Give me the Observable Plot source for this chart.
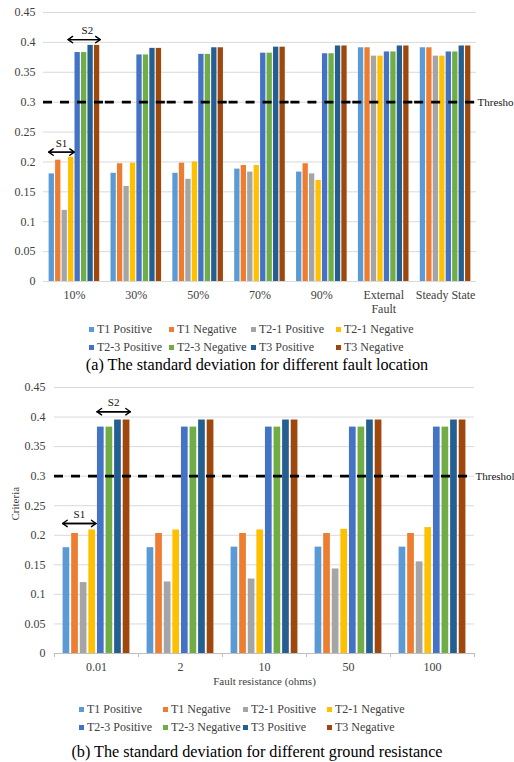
<!DOCTYPE html>
<html>
<head>
<meta charset="utf-8">
<script src="https://cdn.jsdelivr.net/npm/d3@7"></script>
<script src="https://cdn.jsdelivr.net/npm/@observablehq/plot@0.6"></script>
<style>
  html,body{margin:0;padding:0;background:#fff;}
  #page{position:relative;width:514px;height:762px;overflow:hidden;font-family:"Liberation Serif","Times New Roman",serif;}
  #page svg, #page svg text{font-family:"Liberation Serif","Times New Roman",serif !important;}
  .chart{position:absolute;left:0;}
  .legend{position:absolute;display:grid;font-size:12px;color:#404040;line-height:18px;}
  .item{display:flex;align-items:center;white-space:nowrap;}
  .sw{display:inline-block;width:5px;height:5px;margin-right:3px;flex:none;}
  .caption{position:absolute;left:0;width:514px;text-align:center;font-size:16.2px;color:#000;line-height:20px;white-space:nowrap;}
</style>
</head>
<body>
<div id="page">
  <div id="chartA" class="chart" style="top:0px"></div>
  <div id="legendA" class="legend" style="top:320px;left:89px;grid-template-columns:80px 82px 85px auto"></div>
  <div class="caption" style="top:355px">(a) The standard deviation for different fault location</div>
  <div id="chartB" class="chart" style="top:376px"></div>
  <div id="legendB" class="legend" style="top:700px;left:79px;grid-template-columns:84px 80px 84px auto"></div>
  <div class="caption" style="top:742px">(b) The standard deviation for different ground resistance</div>
</div>
<script>
// ---- shared ----
const series = ["T1 Positive", "T1 Negative", "T2-1 Positive", "T2-1 Negative",
                "T2-3 Positive", "T2-3 Negative", "T3 Positive", "T3 Negative"];
const seriesColors = ["#5B9BD5", "#ED7D31", "#A5A5A5", "#FFC000",
                      "#4472C4", "#70AD47", "#255E91", "#9E480E"];
const yTicks = [0, 0.05, 0.1, 0.15, 0.2, 0.25, 0.3, 0.35, 0.4, 0.45];
const threshold = [0.3];

// ---- panel (a): fault location ----
const locations = ["10%", "30%", "50%", "70%", "90%", "External Fault", "Steady State"];
const locT1Pos  = [0.180, 0.181, 0.181, 0.188, 0.183, 0.391, 0.391];
const locT1Neg  = [0.203, 0.197, 0.198, 0.194, 0.197, 0.391, 0.391];
const locT21Pos = [0.119, 0.159, 0.171, 0.183, 0.180, 0.377, 0.377];
const locT21Neg = [0.208, 0.198, 0.200, 0.194, 0.169, 0.377, 0.377];
const locT23Pos = [0.383, 0.379, 0.380, 0.382, 0.381, 0.384, 0.384];
const locT23Neg = [0.383, 0.379, 0.380, 0.382, 0.381, 0.384, 0.384];
const locT3Pos  = [0.395, 0.390, 0.391, 0.392, 0.394, 0.394, 0.394];
const locT3Neg  = [0.395, 0.390, 0.391, 0.392, 0.394, 0.394, 0.394];
const arrowsA = [
  {cat: "10%", label: "S1", from: "T1 Positive", to: "T2-1 Negative", mid: "T1 Negative", y: 0.2165},
  {cat: "10%", label: "S2", from: "T2-1 Negative", to: "T3 Negative", mid: "T2-3 Negative", y: 0.4047}
];

// ---- panel (b): fault resistance ----
const resistances = ["0.01", "2", "10", "50", "100"];
const resT1Pos  = [0.179, 0.179, 0.180, 0.180, 0.180];
const resT1Neg  = [0.203, 0.203, 0.203, 0.203, 0.203];
const resT21Pos = [0.120, 0.121, 0.126, 0.143, 0.155];
const resT21Neg = [0.209, 0.209, 0.209, 0.210, 0.213];
const resT23Pos = [0.383, 0.383, 0.383, 0.383, 0.383];
const resT23Neg = [0.383, 0.383, 0.383, 0.383, 0.383];
const resT3Pos  = [0.395, 0.395, 0.395, 0.395, 0.395];
const resT3Neg  = [0.395, 0.395, 0.395, 0.395, 0.395];
const arrowsB = [
  {cat: "0.01", label: "S1", from: "T1 Positive", to: "T2-1 Negative", mid: "T1 Negative", y: 0.220},
  {cat: "0.01", label: "S2", from: "T2-3 Positive", to: "T3 Negative", mid: "T2-3 Negative", y: 0.409}
];

const W = 514;
const fontFamily = '"Liberation Serif", "Times New Roman", serif';

function makePanel(o) {
  const data = o.cats.flatMap((c, i) => series.map((s, j) => ({cat: c, series: s, value: o.cols[j][i]})));
  const n = series.length;
  const fw = (W - o.ml - o.mr) / o.cats.length;
  const step = fw / (n - o.pi + 2 * o.po);
  const bw = step * (1 - o.pi);
  const half = step * o.po + bw / 2;
  const ext = bw / 2 + 0.5;
  const first = o.cats[0];
  const last = o.cats[o.cats.length - 1];
  const middle = o.cats[Math.floor(o.cats.length / 2)];
  const arrowStyle = {fx: "cat", y1: "y", y2: "y", stroke: "#000", strokeWidth: 1.4,
                      headLength: 6, headAngle: 70, insetStart: -ext, insetEnd: -ext};
  const marks = [
    Plot.gridY(yTicks, {stroke: "#d9d9d9", strokeOpacity: 1, strokeWidth: 1}),
    Plot.axisY(yTicks, {tickSize: 0, tickPadding: o.tickPadY, tickFormat: d3.format("~g"),
                        fontSize: 12, fill: "#404040", label: null}),
    Plot.axisFx({anchor: "bottom", tickSize: 0, tickPadding: 8, fontSize: 12, fill: "#404040",
                 lineHeight: 1.15, tickFormat: o.fxFormat, label: null})
  ];
  if (o.edgeTicks) {
    marks.push(Plot.ruleY([0], {stroke: "#bfbfbf", strokeWidth: 1}));
    marks.push(Plot.ruleX(o.cats, {fx: d => d, x: () => series[0], y1: 0, y2: 0, dx: -half,
                                   insetBottom: -4, stroke: "#bfbfbf"}));
    marks.push(Plot.ruleX([last], {fx: d => d, x: () => series[n - 1], y1: 0, y2: 0, dx: half,
                                   insetBottom: -4, stroke: "#bfbfbf"}));
  }
  marks.push(
    Plot.barY(data, {fx: "cat", x: "series", y: "value", fill: "series"}),
    Plot.ruleY(threshold, {y: d => d, stroke: "#000", strokeWidth: 2.6, strokeDasharray: "9,8"}),
    Plot.text(threshold, {fx: () => last, y: d => d, text: () => "Threshold", frameAnchor: "right",
                          textAnchor: "start", dx: 1, fontSize: 11, fill: "#111"}),
    Plot.arrow(o.arrows, {...arrowStyle, x1: "to", x2: "from"}),
    Plot.arrow(o.arrows, {...arrowStyle, x1: "from", x2: "to"}),
    Plot.text(o.arrows, {fx: "cat", x: "mid", y: "y", text: "label", dx: step / 2, dy: -9,
                         fontSize: 11, fill: "#111"})
  );
  if (o.yLabel) {
    marks.push(Plot.text([o.yLabel], {fx: () => first, frameAnchor: "left", text: d => d, rotate: -90,
                                      dx: -39, fontSize: 11, fill: "#404040"}));
  }
  if (o.xLabel) {
    marks.push(Plot.text([o.xLabel], {fx: () => middle, frameAnchor: "bottom", text: d => d,
                                      dy: 31, fontSize: 11, fill: "#404040"}));
  }
  return Plot.plot({
    width: W, height: o.height,
    marginTop: o.mt, marginBottom: o.mb, marginLeft: o.ml, marginRight: o.mr,
    style: {fontFamily, fontSize: "12px", background: "transparent", color: "#404040"},
    fx: {domain: o.cats, padding: 0, round: false, label: null},
    x: {domain: series, paddingInner: o.pi, paddingOuter: o.po, round: false, axis: null},
    y: {domain: [0, 0.45], label: null},
    color: {domain: series, range: seriesColors},
    marks
  });
}

const chartA = makePanel({
  cats: locations,
  cols: [locT1Pos, locT1Neg, locT21Pos, locT21Neg, locT23Pos, locT23Neg, locT3Pos, locT3Neg],
  arrows: arrowsA,
  height: 318, mt: 12, mb: 37, ml: 43, mr: 38, pi: 0.18, po: 0.87, tickPadY: 8,
  fxFormat: d => d === "External Fault" ? "External\nFault" : d,
  edgeTicks: false
});
document.getElementById("chartA").appendChild(chartA);

const chartB = makePanel({
  cats: resistances,
  cols: [resT1Pos, resT1Neg, resT21Pos, resT21Neg, resT23Pos, resT23Neg, resT3Pos, resT3Neg],
  arrows: arrowsB,
  height: 318, mt: 11, mb: 41, ml: 54, mr: 40, pi: 0.22, po: 1.0, tickPadY: 9,
  fxFormat: d => d,
  edgeTicks: true,
  yLabel: "Criteria",
  xLabel: "Fault resistance (ohms)"
});
document.getElementById("chartB").appendChild(chartB);

function buildLegend(id) {
  const el = document.getElementById(id);
  series.forEach((s, i) => {
    const item = document.createElement("div");
    item.className = "item";
    const sw = document.createElement("span");
    sw.className = "sw";
    sw.style.background = seriesColors[i];
    item.appendChild(sw);
    item.appendChild(document.createTextNode(s));
    el.appendChild(item);
  });
}
buildLegend("legendA");
buildLegend("legendB");
</script>
</body>
</html>
